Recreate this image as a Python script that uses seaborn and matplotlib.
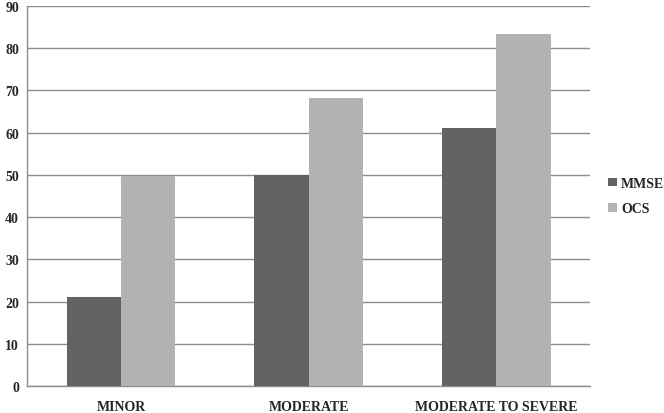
import pandas as pd
import matplotlib.pyplot as plt
import seaborn as sns

categories = ["MINOR", "MODERATE", "MODERATE TO SEVERE"]
mmse = [21, 50, 61.2]
ocs = [49.7, 68.3, 83.3]

df = pd.DataFrame({
    "severity": categories * 2,
    "test": ["MMSE"] * 3 + ["OCS"] * 3,
    "value": mmse + ocs,
})

sns.set_style("white")
plt.rcParams["font.family"] = ["Liberation Serif", "DejaVu Serif"]
plt.rcParams["font.weight"] = "bold"

fig = plt.figure(figsize=(6.64, 4.14), dpi=100)
ax = fig.add_axes([0.041, 0.065, 0.848, 0.918])

sns.barplot(data=df, x="severity", y="value", hue="test",
            palette=["#636363", "#b3b3b3"], width=0.58, saturation=1,
            edgecolor="none", ax=ax, zorder=3)

ax.set_ylim(0, 90)
ax.set_xlim(-0.5, 2.5)
ax.set_yticks(range(0, 91, 10))
ax.grid(axis="y", color="#8c8c8c", linewidth=1.0, zorder=0)
ax.set_axisbelow(True)
ax.set_xlabel("")
ax.set_ylabel("")

for s in ["top", "right"]:
    ax.spines[s].set_visible(False)
for s in ["left", "bottom"]:
    ax.spines[s].set_color("#8c8c8c")
    ax.spines[s].set_linewidth(1.0)

ax.set_xticks([0.5, 1.5, 2.5], minor=True)
ax.tick_params(axis="x", which="major", length=0, pad=10, labelsize=10)
ax.tick_params(axis="x", which="minor", length=4, color="#8c8c8c", direction="out")
ax.tick_params(axis="y", length=4, color="#8c8c8c", direction="out", labelsize=10, pad=2)
for lab in ax.get_xticklabels() + ax.get_yticklabels():
    lab.set_fontweight("bold")

leg = ax.legend(loc="center left", bbox_to_anchor=(1.01, 0.5), frameon=False,
                handlelength=0.6, handleheight=0.6, handletextpad=0.3,
                labelspacing=0.9, prop={"weight": "bold", "size": 10})

plt.savefig("out.png", dpi=100)
